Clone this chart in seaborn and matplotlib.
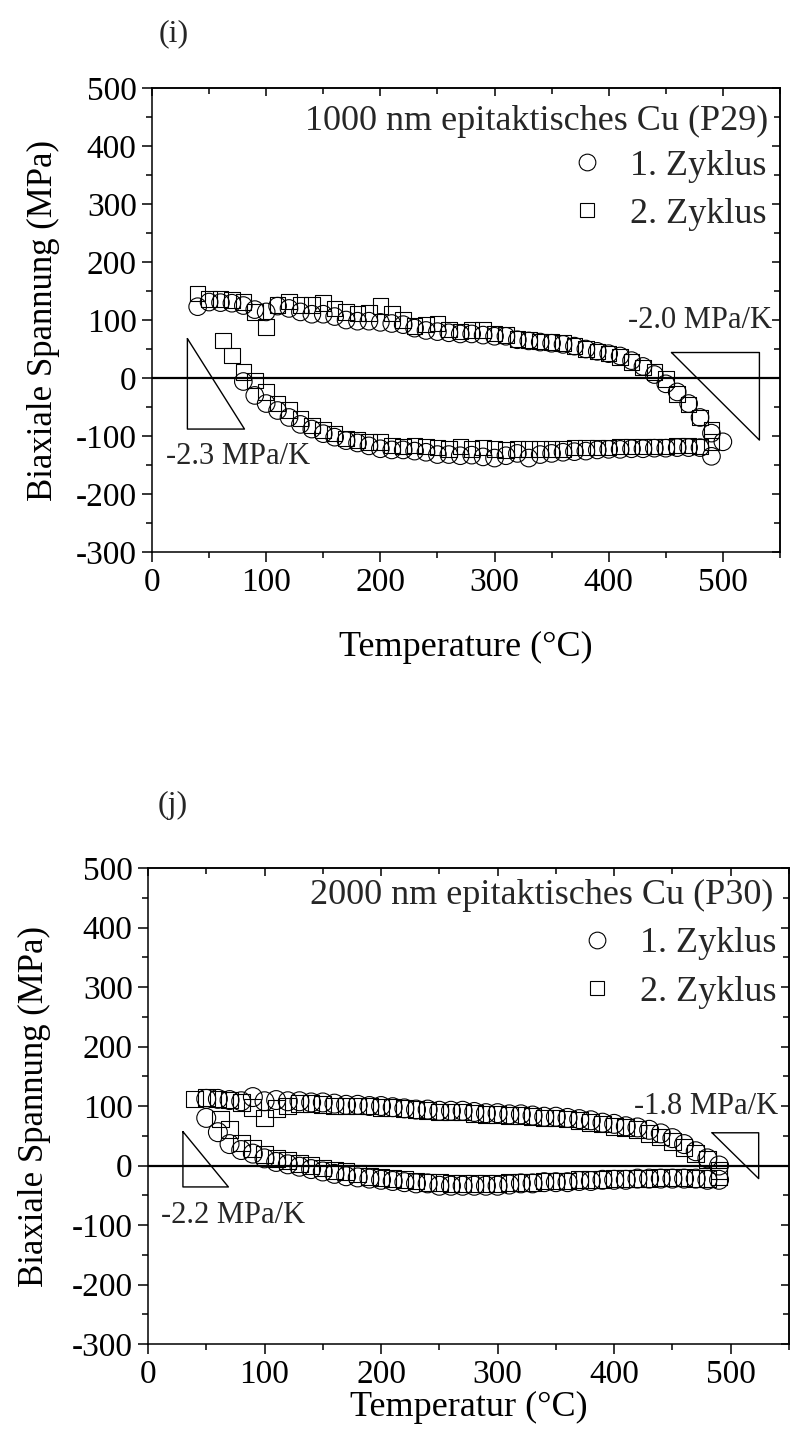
import matplotlib
matplotlib.use("Agg")
import matplotlib.pyplot as plt
from matplotlib.ticker import MultipleLocator
import pandas as pd
import seaborn as sns

# ---------------- panel (i): 1000 nm epitaktisches Cu (P29) ----------------
i_c1_T = [40, 50, 60, 70, 80, 90, 100, 110, 120, 130, 140, 150, 160, 170, 180, 190,
          200, 210, 220, 230, 240, 250, 260, 270, 280, 290, 300, 310, 320, 330, 340,
          350, 360, 370, 380, 390, 400, 410, 420, 430, 440, 450, 460, 470, 480, 490, 500,
          490, 480, 470, 460, 450, 440, 430, 420, 410, 400, 390, 380, 370, 360, 350,
          340, 330, 320, 310, 300, 290, 280, 270, 260, 250, 240, 230, 220, 210, 200,
          190, 180, 170, 160, 150, 140, 130, 120, 110, 100, 90, 80]
i_c1_S = [123, 131, 130, 129, 125, 118, 114, 124, 120, 114, 110, 110, 106, 100, 98, 98,
          96, 94, 92, 86, 82, 80, 78, 76, 76, 74, 72, 72, 66, 64, 62,
          60, 58, 55, 50, 46, 42, 38, 30, 20, 6, -10, -24, -44, -68, -95, -110,
          -135, -120, -120, -120, -121, -121, -122, -122, -123, -123, -124, -126, -127, -128, -130,
          -132, -138, -130, -134, -138, -136, -133, -134, -132, -132, -128, -126, -124, -124, -122,
          -117, -112, -108, -102, -96, -88, -80, -68, -56, -44, -30, -6]

i_c2_T = [40, 50, 60, 70, 80, 90, 100, 110, 120, 130, 140, 150, 160, 170, 180, 190,
          200, 210, 220, 230, 240, 250, 260, 270, 280, 290, 300, 310, 320, 330, 340,
          350, 360, 370, 380, 390, 400, 410, 420, 430, 440, 450, 460, 470, 480, 490,
          490, 480, 470, 460, 450, 440, 430, 420, 410, 400, 390, 380, 370, 360, 350,
          340, 330, 320, 310, 300, 290, 280, 270, 260, 250, 240, 230, 220, 210, 200,
          190, 180, 170, 160, 150, 140, 130, 120, 110, 100, 90, 80, 70, 62]
i_c2_S = [146, 136, 136, 135, 131, 114, 88, 126, 132, 126, 126, 129, 120, 114, 111, 112,
          124, 111, 100, 90, 92, 94, 84, 80, 83, 83, 77, 74, 67, 66, 63,
          62, 60, 55, 50, 46, 42, 36, 28, 18, 10, -2, -28, -46, -68, -90,
          -110, -118, -116, -116, -118, -118, -118, -118, -118, -120, -120, -120, -120, -122, -122,
          -122, -122, -122, -124, -122, -120, -122, -118, -122, -120, -118, -116, -118, -116, -110,
          -110, -107, -104, -96, -90, -82, -70, -55, -44, -24, -4, 10, 39, 65]

# ---------------- panel (j): 2000 nm epitaktisches Cu (P30) ----------------
j_c1_T = [50, 60, 70, 80, 90, 100, 110, 120, 130, 140, 150, 160, 170, 180, 190,
          200, 210, 220, 230, 240, 250, 260, 270, 280, 290, 300, 310, 320, 330, 340,
          350, 360, 370, 380, 390, 400, 410, 420, 430, 440, 450, 460, 470, 480, 490,
          490, 480, 470, 460, 450, 440, 430, 420, 410, 400, 390, 380, 370, 360, 350,
          340, 330, 320, 310, 300, 290, 280, 270, 260, 250, 240, 230, 220, 210, 200,
          190, 180, 170, 160, 150, 140, 130, 120, 110, 100, 90, 80, 70, 60, 50]
j_c1_S = [112, 112, 110, 108, 115, 108, 110, 108, 108, 106, 106, 104, 102, 102, 100,
          100, 98, 96, 94, 94, 92, 92, 92, 90, 88, 88, 86, 86, 84, 82,
          82, 80, 78, 76, 72, 70, 66, 64, 60, 54, 46, 36, 24, 12, 0,
          -24, -24, -22, -22, -22, -22, -22, -22, -24, -24, -24, -26, -26, -28, -28,
          -28, -30, -30, -32, -34, -34, -34, -34, -34, -34, -30, -30, -28, -26, -24,
          -22, -20, -18, -14, -10, -6, -2, 2, 6, 12, 20, 26, 36, 56, 80]

j_c2_T = [40, 50, 60, 70, 80, 90, 100, 110, 120, 130, 140, 150, 160, 170, 180, 190,
          200, 210, 220, 230, 240, 250, 260, 270, 280, 290, 300, 310, 320, 330, 340,
          350, 360, 370, 380, 390, 400, 410, 420, 430, 440, 450, 460, 470, 480, 490,
          490, 480, 470, 460, 450, 440, 430, 420, 410, 400, 390, 380, 370, 360, 350,
          340, 330, 320, 310, 300, 290, 280, 270, 260, 250, 240, 230, 220, 210, 200,
          190, 180, 170, 160, 150, 140, 130, 120, 110, 100, 90, 80, 70, 62]
j_c2_S = [112, 114, 112, 110, 106, 98, 80, 96, 100, 104, 104, 102, 100, 100, 100, 100,
          98, 98, 96, 94, 92, 90, 90, 90, 88, 86, 86, 84, 84, 82, 80,
          80, 78, 76, 72, 70, 66, 64, 60, 54, 48, 40, 30, 20, 10, -8,
          -18, -22, -22, -20, -20, -20, -22, -22, -22, -22, -24, -24, -24, -26, -26,
          -26, -28, -28, -28, -30, -30, -30, -30, -30, -28, -28, -26, -24, -22, -20,
          -18, -14, -10, -8, -4, 0, 4, 8, 12, 18, 28, 38, 60, 78]

# slope triangles (T, S) and their labels
i_tri_left = ([31, 31, 81, 31], [68, -88, -88, 68])
i_tri_right = ([455, 532, 532, 455], [44, 44, -107, 44])
j_tri_left = ([30, 30, 69, 30], [57, -36, -36, 57])
j_tri_right = ([484, 524, 524, 484], [55, 55, -22, 55])

cycle_labels = ["1. Zyklus", "2. Zyklus"]


def make_frame(T, S, label):
    return pd.DataFrame({"T": T, "S": S, "Zyklus": label})


sns.set_theme(style="ticks")
plt.rcParams["font.family"] = ["Liberation Serif", "DejaVu Serif"]
plt.rcParams["axes.unicode_minus"] = False
plt.rcParams["axes.linewidth"] = 1.1

fig = plt.figure(figsize=(7.9, 14.39), dpi=100)
ax_i = fig.add_axes([0.1924, 0.6164, 0.7949, 0.3224])
ax_j = fig.add_axes([0.1873, 0.0660, 0.8114, 0.3308])

panels = [
    dict(ax=ax_i, c1=(i_c1_T, i_c1_S), c2=(i_c2_T, i_c2_S),
         tri=(i_tri_left, i_tri_right), sizes=(160, 125),
         title="1000 nm epitaktisches Cu (P29)", title_xy=(0.981, 0.927),
         leg_anchor=(0.979, 0.868),
         slopes=[(12, -135, "-2.3 MPa/K", "left"), (543, 100, "-2.0 MPa/K", "right")],
         xlabel="Temperature (°C)", xpad=24, ypad=11, tag="(i)",
         tag_xy=(0.035, 1.118)),
    dict(ax=ax_j, c1=(j_c1_T, j_c1_S), c2=(j_c2_T, j_c2_S),
         tri=(j_tri_left, j_tri_right), sizes=(185, 145),
         title="2000 nm epitaktisches Cu (P30)", title_xy=(0.975, 0.943),
         leg_anchor=(0.981, 0.876),
         slopes=[(11, -84, "-2.2 MPa/K", "left"), (541, 100, "-1.8 MPa/K", "right")],
         xlabel="Temperatur (°C)", xpad=1, ypad=15, tag="(j)",
         tag_xy=(0.039, 1.132)),
]

for p in panels:
    ax = p["ax"]
    ax.axhline(0, color="black", lw=1.6, zorder=1)
    d1 = make_frame(*p["c1"], cycle_labels[0])
    d2 = make_frame(*p["c2"], cycle_labels[1])
    sns.scatterplot(data=d1, x="T", y="S", marker="o", s=p["sizes"][0],
                    facecolor="none", edgecolor="black", linewidth=0.8,
                    ax=ax, legend=False, zorder=3)
    sns.scatterplot(data=d2, x="T", y="S", marker="s", s=p["sizes"][1],
                    facecolor="none", edgecolor="black", linewidth=0.8,
                    ax=ax, legend=False, zorder=3)

    for tx, ty in p["tri"]:
        ax.plot(tx, ty, color="black", lw=1.0, zorder=2)
    for x, y, txt, ha in p["slopes"]:
        ax.text(x, y, txt, ha=ha, va="center", fontsize=22)

    ax.text(*p["title_xy"], p["title"], transform=ax.transAxes,
            ha="right", va="center", fontsize=26)
    h1 = plt.Line2D([], [], ls="none", marker="o", ms=12, mfc="none",
                    mec="black", mew=0.8)
    h2 = plt.Line2D([], [], ls="none", marker="s", ms=9.5, mfc="none",
                    mec="black", mew=0.8)
    ax.legend([h1, h2], cycle_labels, loc="upper right",
              bbox_to_anchor=p["leg_anchor"], frameon=False, fontsize=26,
              handlelength=1.0, handletextpad=0.7, labelspacing=0.42,
              borderaxespad=0, borderpad=0)

    ax.set_xlim(0, 550)
    ax.set_ylim(-300, 500)
    ax.xaxis.set_major_locator(MultipleLocator(100))
    ax.xaxis.set_minor_locator(MultipleLocator(50))
    ax.yaxis.set_major_locator(MultipleLocator(100))
    ax.yaxis.set_minor_locator(MultipleLocator(50))
    ax.tick_params(which="major", direction="out", length=7, width=1.1,
                   labelsize=24, pad=4, color="black", labelcolor="black")
    ax.tick_params(which="minor", direction="out", length=4, width=1.1,
                   color="black")
    for side in ["top", "right"]:
        if side == "top":
            sec = ax.secondary_xaxis("top")
            sec.xaxis.set_major_locator(MultipleLocator(100))
            sec.xaxis.set_minor_locator(MultipleLocator(50))
        else:
            sec = ax.secondary_yaxis("right")
            sec.yaxis.set_major_locator(MultipleLocator(100))
            sec.yaxis.set_minor_locator(MultipleLocator(50))
        sec.tick_params(which="major", direction="in", length=6, width=1.1,
                        labeltop=False, labelright=False, color="black")
        sec.tick_params(which="minor", direction="in", length=4, width=1.1,
                        color="black")
        sec.spines[side].set_linewidth(1.1)
        sec.spines[side].set_color("black")
    for sp in ax.spines.values():
        sp.set_color("black")
        sp.set_linewidth(1.1)

    ax.set_xlabel(p["xlabel"], fontsize=26, labelpad=p["xpad"], color="black")
    ax.set_ylabel("Biaxiale Spannung (MPa)", fontsize=25,
                  labelpad=p["ypad"], color="black")
    ax.text(*p["tag_xy"], p["tag"], transform=ax.transAxes,
            ha="center", va="center", fontsize=23)

fig.savefig("out.png", dpi=100)
